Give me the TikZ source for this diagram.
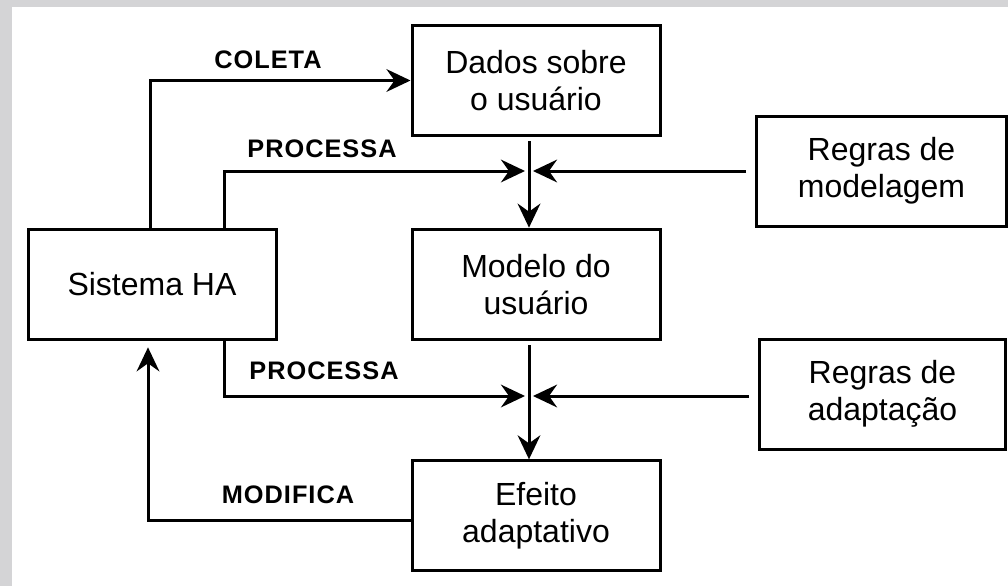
\documentclass[tikz,border=0pt]{standalone}
\usepackage{fontspec}
\setmainfont{Liberation Sans}
\usetikzlibrary{arrows.meta}
\definecolor{framegray}{RGB}{212,212,214}

\begin{document}
\begin{tikzpicture}[x=0.75pt,y=-0.75pt,
  box/.style={draw,line width=2.25pt,fill=white,minimum width=186pt,minimum height=83pt,
    align=center,font=\fontsize{24}{27.75}\selectfont},
  lbl/.style={font=\fontsize{19}{22}\selectfont\bfseries\addfontfeature{LetterSpace=4}},
  arr/.style={line width=2.25pt,-{Stealth[length=18pt,width=17pt,inset=6pt]}}]
  \fill[framegray] (0,0) rectangle (1008,586);
  \fill[white] (12,7) rectangle (1008,586);
  % boxes
  \node[box] (dados) at (536,80.5) {Dados sobre\\o usuário};
  \node[box] (sis) at (152,284.5) {Sistema HA};
  \node[box] (modelo) at (536,284.5) {Modelo do\\usuário};
  \node[box,minimum height=82pt] (efeito) at (536,515.5) {Efeito\\adaptativo};
  \node[box,minimum width=187pt,minimum height=82.5pt] (rmod) at (881.5,171) {Regras de\\modelagem};
  \node[box,minimum width=184pt,minimum height=82.5pt] (radp) at (882.5,394) {Regras de\\adaptação};
  \coordinate (m1) at (529,171);
  \coordinate (m2) at (529,396);
  % connectors
  \draw[arr] ([xshift=-1.5pt]sis.north) |- (dados.west);
  \draw[arr] ([xshift=54pt]sis.north) |- ([xshift=-3pt]m1);
  \draw[arr,shorten <=3pt] (dados.south -| m1) -- (modelo.north -| m1);
  \draw[arr,shorten <=7pt] (rmod.west) -- ([xshift=3pt]m1);
  \draw[arr] ([xshift=54pt]sis.south) |- ([xshift=-3pt]m2);
  \draw[arr,shorten <=3pt] (modelo.south -| m2) -- (efeito.north -| m2);
  \draw[arr,shorten <=7pt] (radp.west |- m2) -- ([xshift=3pt]m2);
  \draw[arr,shorten >=4.5pt] ([yshift=-3.4pt]efeito.west) -| ([xshift=-3pt]sis.south);
  % labels
  \node[lbl] (coleta) at (268,60) {COLETA};
  \node[lbl] (proc1) at (322,148.5) {PROCESSA};
  \node[lbl] (proc2) at (324,370.5) {PROCESSA};
  \node[lbl] (modif) at (288,494.5) {MODIFICA};
\end{tikzpicture}
\end{document}
